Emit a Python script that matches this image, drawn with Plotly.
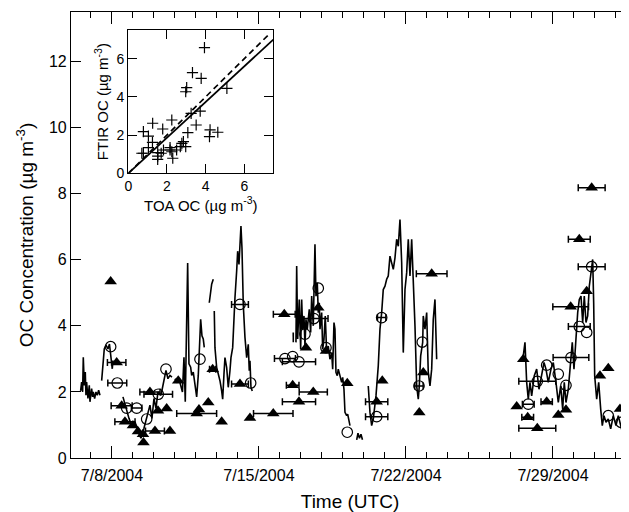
import plotly.graph_objects as go

# ---------------- data (x = day of July 2004, UTC; values in ug m-3) ----------------
LINE_DAY = [
    6.508, 6.556, 6.604, 6.635, 6.683, 6.730, 6.762, 6.794, 6.857, 6.921, 6.953, 7.032, 7.080, 7.111, 7.175, 7.238, 7.302, 7.366, 7.429, None,
    7.510, 7.572, 7.634, 7.715, 7.810, 7.881, 7.953, 8.015, 8.048, None,
    8.524, 8.667, 8.810, 8.953, 9.096, 9.238, 9.381, 9.524, 9.667, 9.810, 9.905, 10.0, 10.096, 10.191, 10.334, 10.477, 10.572, 10.667, 10.762, 10.857, None,
    11.0, 11.096, 11.191, 11.286, 11.357, 11.429, 11.491, 11.605, 11.667, 11.748, 11.796, 11.872, 11.953, 12.034, 12.110, 12.157, 12.224, 12.286, 12.348, 12.396, None,
    12.634, 12.748, 12.824, None,
    12.872, 12.905, 12.986, 13.062, 13.143, 13.224, 13.272, 13.334, 13.381, 13.462, 13.538, 13.619, 13.667, 13.748, 13.777, 13.857, 13.938, 13.986, 14.048, 14.096, 14.143, 14.191, 14.253, 14.334, 14.415, 14.491, 14.538, 14.572, 14.619, 14.681, None,
    16.633, 16.635, None,
    16.762, 16.796, 16.843, 16.919, 16.986, 17.034, 17.081, 17.143, 17.191, 17.238, 17.300, 17.396, 17.462, 17.510, 17.586, 17.667, 17.715, 17.777, 17.824, 17.872, 17.905, 17.986, 18.034, 18.096, 18.157, 18.224, 18.300, 18.381, 18.462, 18.510, 18.572, 18.619, 18.667, 18.729, 18.777, 18.857, 18.938, 18.986, 19.048, 19.096, 19.177, 19.224, 19.286, 19.334, None,
    19.653, 19.715, 19.786, 19.857, 19.929, None,
    20.205, 20.286, 20.367, 20.443, 20.572, 20.681, 20.762, 20.843, 20.919, 21.0, 21.081, 21.157, 21.238, 21.319, 21.396, 21.477, 21.557, 21.634, 21.715, 21.796, 21.872, 21.953, 22.034, 22.110, 22.191, 22.272, 22.348, 22.429, 22.510, 22.586, 22.634, 22.700, 22.796, 22.824, 22.905, 22.986, 23.062, 23.143, 23.224, 23.300, 23.381, 23.462, None,
    27.586, 27.667, 27.748, 27.824, 27.905, 27.986, 28.110, 28.224, 28.334, 28.462, 28.572, 28.667, 28.777, 28.905, 29.015, 29.143, 29.253, 29.367, 29.462, 29.538, 29.619, 29.729, 29.843, 29.919, 30.0, 30.096, 30.177, 30.253, 30.334, 30.415, 30.491, 30.572, 30.653, 30.729, 30.810, 30.891, 30.938, 30.986, 31.081, 31.177, 31.272, 31.348, 31.429, 31.524, 31.634, 31.748, 31.872, 32.0, 32.110, 32.224, 32.348, 32.477, 32.619,
]
LINE_OC = [
    2.03, 2.3, 2.0, 3.05, 2.2, 2.6, 1.9, 2.3, 1.8, 2.2, 1.7, 2.1, 1.85, 2.0, 1.8, 2.0, 1.9, 2.05, 1.9, None,
    2.34, 2.9, 3.3, 3.42, 3.3, 3.45, 3.1, 2.7, 2.95, None,
    1.85, 1.5, 1.2, 0.95, 1.1, 0.8, 0.6, 0.9, 1.3, 1.6, 1.2, 1.8, 1.5, 2.0, 1.9, 2.3, 2.65, 2.4, 2.5, 2.45, None,
    2.4, 2.3, 2.4, 2.2, 2.0, 3.05, 1.7, 5.9, 2.85, 2.75, 2.5, 2.6, 2.15, 1.85, 2.5, 3.15, 4.2, 3.7, 3.6, 3.35, None,
    4.7, 5.26, 5.41, None,
    4.45, 3.34, 2.74, 2.54, 2.34, 2.03, 1.78, 2.54, 3.04, 2.74, 2.14, 2.64, 3.04, 3.34, 3.85, 4.85, 5.66, 6.26, 5.86, 6.56, 7.02, 6.36, 4.65, 3.65, 3.04, 3.44, 2.64, 2.94, 2.14, 2.03, None,
    3.8, 3.5, None,
    3.5, 5.81, 3.6, 4.8, 3.29, 4.8, 3.9, 4.3, 3.39, 4.2, 3.9, 4.5, 3.8, 4.9, 4.0, 6.47, 4.9, 5.31, 4.4, 4.7, 3.9, 4.4, 3.29, 3.6, 4.3, 3.19, 3.39, 2.99, 3.19, 2.69, 4.1, 3.9, 2.59, 2.49, 2.69, 2.49, 2.29, 2.44, 2.08, 1.38, 1.28, 1.33, 1.08, 0.98, None,
    0.55, 0.75, 0.6, 0.72, 0.55, None,
    2.18, 1.38, 0.98, 1.18, 1.88, 2.79, 3.9, 4.4, 5.1, 5.2, 5.41, 5.51, 6.11, 5.91, 5.71, 6.06, 6.62, 6.41, 7.22, 5.91, 3.19, 5.1, 5.61, 6.62, 5.51, 6.62, 5.41, 4.0, 2.18, 1.78, 2.18, 3.09, 3.5, 4.3, 3.9, 4.4, 2.59, 2.18, 2.69, 4.2, 4.8, 2.99, None,
    3.09, 3.5, 2.29, 1.78, 2.29, 1.88, 2.49, 2.69, 2.08, 2.59, 2.89, 2.69, 2.29, 2.69, 2.89, 2.29, 1.68, 2.18, 1.48, 2.29, 1.68, 2.08, 2.89, 3.5, 2.69, 3.8, 4.4, 4.8, 4.9, 4.1, 4.9, 4.1, 4.3, 5.2, 5.71, 6.01, 4.7, 2.49, 1.78, 2.29, 1.48, 0.98, 1.28, 1.08, 1.18, 0.88, 1.28, 0.98, 1.28, 0.98, 0.67, 0.88, 0.78,
]

# FTIR (open circles): day, OC, half sampling interval (days, None = no bar)
CIRC_DAY = [7.938, 8.253, 8.700, 9.177, 9.653, 10.205, 10.572, 12.191, 14.096, 14.605, 16.238, 16.605, 16.905, 17.191, 17.619, 17.824, 18.191, 19.205, 20.605, 20.843, 22.777, 22.619, 27.824, 28.253, 28.700, 29.253, 29.619, 29.857, 30.253, 30.605, 30.843, 31.634, 32.238, 33.238]
CIRC_OC = [3.37, 2.27, 1.51, 1.51, 1.18, 1.93, 2.69, 2.99, 4.65, 2.27, 3.01, 3.07, 2.91, 3.75, 4.22, 5.14, 3.34, 0.78, 1.25, 4.25, 3.51, 2.18, 1.63, 2.32, 2.81, 2.54, 2.2, 3.04, 3.98, 3.8, 5.79, 1.28, 1.08, 2.39]
CIRC_ERR = [None, 0.45, None, 0.25, None, 0.68, None, None, 0.4, None, 0.5, None, 0.79, None, 0.67, None, None, None, 0.53, 0.2, None, 0.2, 0.28, 0.88, None, None, None, 0.85, 0.52, None, 0.64, None, None, 0.8]

# TOA (filled triangles)
TRI_DAY = [7.938, 8.224, 8.462, 8.619, 9.0, 9.238, 9.477, 9.5, 9.810, 10.191, 10.605, 10.048, 10.762, 11.157, 12.034, 12.143, 12.586, 12.796, 13.224, 14.096, 14.572, 15.681, 16.205, 16.605, 16.905, 17.586, 17.238, 17.824, 18.191, 19.205, 20.605, 20.872, 22.634, 22.824, 23.224, 30.843, 30.253, 29.843, 30.605, 27.586, 27.272, 27.796, 28.253, 28.700, 29.253, 29.619, 31.238, 31.634, 32.191, 33.238]
TRI_OC = [5.34, 2.89, 1.58, 1.1, 0.98, 0.8, 0.72, 0.47, 2.0, 1.43, 1.5, 0.82, 0.82, 2.34, 1.35, 1.47, 1.68, 2.69, 1.1, 2.24, 1.21, 1.35, 4.35, 2.2, 1.7, 2.0, 3.34, 4.55, 3.24, 2.26, 1.7, 2.34, 1.38, 2.59, 5.58, 8.18, 6.62, 4.58, 5.05, 2.99, 1.56, 1.23, 0.9, 1.7, 1.3, 1.46, 2.49, 2.72, 1.48, 1.8]
TRI_ERR = [None, 0.44, 0.5, 0.48, None, None, None, None, 0.48, None, None, 0.45, None, None, 0.95, None, None, 0.15, None, 0.4, None, 0.94, 0.52, 0.3, 0.79, 0.67, None, None, None, None, 0.53, None, None, None, 0.73, 0.64, 0.52, 0.85, None, None, None, 0.28, 0.88, 0.27, None, None, None, None, None, 0.8]

# inset scatter
INSET_TOA = [3.94, 3.32, 3.77, 3.02, 2.97, 5.1, 3.25, 3.72, 1.26, 2.25, 1.78, 3.51, 0.78, 1.04, 3.08, 4.23, 4.63, 4.2, 1.25, 1.04, 0.78, 0.7, 1.52, 1.52, 1.52, 1.82, 2.16, 2.25, 2.3, 2.5, 2.77, 2.85, 2.97, 2.69, 1.7, 2.16]
INSET_FTIR = [6.58, 5.27, 4.97, 4.48, 4.27, 4.45, 3.14, 3.26, 2.62, 2.79, 2.32, 2.53, 2.18, 1.95, 2.13, 2.27, 2.15, 1.92, 1.62, 1.34, 1.05, 1.05, 1.08, 0.9, 0.73, 1.22, 1.34, 1.13, 0.79, 1.22, 1.57, 1.66, 1.4, 1.4, 1.05, 1.22]
FIT_X = [0, 7.5]
FIT_Y = [0, 7.0]
ONE_X = [0, 7.3]
ONE_Y = [0, 7.3]

X_TICKS = [8, 15, 22, 29]
X_TICKTEXT = ["7/8/2004", "7/15/2004", "7/22/2004", "7/29/2004"]

FONT = "Liberation Sans, Arial, Helvetica, sans-serif"
BLACK = "#000000"

fig = go.Figure()

fig.add_trace(go.Scatter(x=LINE_DAY, y=LINE_OC, mode="lines", connectgaps=False,
                         line=dict(color=BLACK, width=1.6), hoverinfo="skip", showlegend=False))


def split(days, vals, errs):
    with_e = ([d for d, e in zip(days, errs) if e is not None],
              [v for v, e in zip(vals, errs) if e is not None],
              [e for e in errs if e is not None])
    no_e = ([d for d, e in zip(days, errs) if e is None],
            [v for v, e in zip(vals, errs) if e is None])
    return with_e, no_e


ebar = dict(type="data", symmetric=True, color=BLACK, thickness=1.5, width=3.5)

(cx, cy, ce), (cx0, cy0) = split(CIRC_DAY, CIRC_OC, CIRC_ERR)
circ_marker = dict(symbol="circle-open", size=10.5, color=BLACK, line=dict(width=1.2, color=BLACK))
fig.add_trace(go.Scatter(x=cx, y=cy, mode="markers", marker=circ_marker,
                         error_x=dict(array=ce, **ebar), showlegend=False))
fig.add_trace(go.Scatter(x=cx0, y=cy0, mode="markers", marker=circ_marker, showlegend=False))

(tx, ty, te), (tx0, ty0) = split(TRI_DAY, TRI_OC, TRI_ERR)
tri_marker = dict(symbol="triangle-up", size=11, color=BLACK)
fig.add_trace(go.Scatter(x=tx, y=ty, mode="markers", marker=tri_marker,
                         error_x=dict(array=te, **ebar), showlegend=False))
fig.add_trace(go.Scatter(x=tx0, y=ty0, mode="markers", marker=tri_marker, showlegend=False))

# right-hand tick marks (no line)
fig.add_trace(go.Scatter(x=[None], y=[None], yaxis="y3", showlegend=False, hoverinfo="skip"))

# inset
fig.add_trace(go.Scatter(x=INSET_TOA, y=INSET_FTIR, mode="markers", xaxis="x2", yaxis="y2",
                         marker=dict(symbol="cross-thin-open", size=8, color=BLACK,
                                     line=dict(width=1.2, color=BLACK)), showlegend=False))
fig.add_trace(go.Scatter(x=FIT_X, y=FIT_Y, mode="lines", xaxis="x2", yaxis="y2",
                         line=dict(color=BLACK, width=1.7), showlegend=False))
fig.add_trace(go.Scatter(x=ONE_X, y=ONE_Y, mode="lines", xaxis="x2", yaxis="y2",
                         line=dict(color=BLACK, width=1.7, dash="6px,4px"), showlegend=False))

axis_common = dict(showgrid=False, zeroline=False, showline=True, linecolor=BLACK, linewidth=1.2,
                   ticks="inside", tickcolor=BLACK, tickwidth=1.2)

# the page body has an 8px default margin; the figure is sized so the plot lands where the reference's does
fig.update_layout(
    width=621, height=504,
    margin=dict(l=63, r=0, t=4, b=54),
    paper_bgcolor="white", plot_bgcolor="white",
    font=dict(family=FONT, color=BLACK, size=16),
    showlegend=False,
    xaxis=dict(**axis_common, range=[6.05, 32.62], tickmode="array", tickvals=X_TICKS, ticktext=X_TICKTEXT,
               ticklen=12, mirror="ticks", tickfont=dict(size=16), ticklabelstandoff=3,
               minor=dict(tickmode="linear", tick0=0, dtick=1, ticks="inside", ticklen=6,
                          tickcolor=BLACK, tickwidth=1.2, showgrid=False),
               title=dict(text="Time (UTC)", font=dict(size=19), standoff=12)),
    yaxis=dict(**axis_common, range=[0, 13.5], tickmode="linear", tick0=0, dtick=2, ticklen=10,
               mirror=False, tickfont=dict(size=16),
               title=dict(text="OC Concentration (µg m<sup>-3</sup>)", font=dict(size=19), standoff=10)),
    yaxis3=dict(overlaying="y", side="right", anchor="x", range=[0, 13.5], tickmode="linear", tick0=0,
                dtick=2, ticks="inside", ticklen=6, tickcolor=BLACK, tickwidth=1.2, showline=False,
                showgrid=False, zeroline=False, showticklabels=False),
    xaxis2=dict(**axis_common, domain=[0.1027, 0.3625], anchor="y2", range=[0, 7.5], tickmode="array",
                tickvals=[0, 2, 4, 6], ticklen=9, mirror="ticks", tickfont=dict(size=14),
                title=dict(text="TOA OC (µg m<sup>-3</sup>)", font=dict(size=15), standoff=2)),
    yaxis2=dict(**axis_common, domain=[0.6383, 0.9596], anchor="x2", range=[0, 7.5], tickmode="array",
                tickvals=[0, 2, 4, 6], ticklen=9, mirror="ticks", tickfont=dict(size=14),
                title=dict(text="FTIR OC (µg m<sup>-3</sup>)", font=dict(size=15), standoff=4)),
)

fig.write_html("out.html")
